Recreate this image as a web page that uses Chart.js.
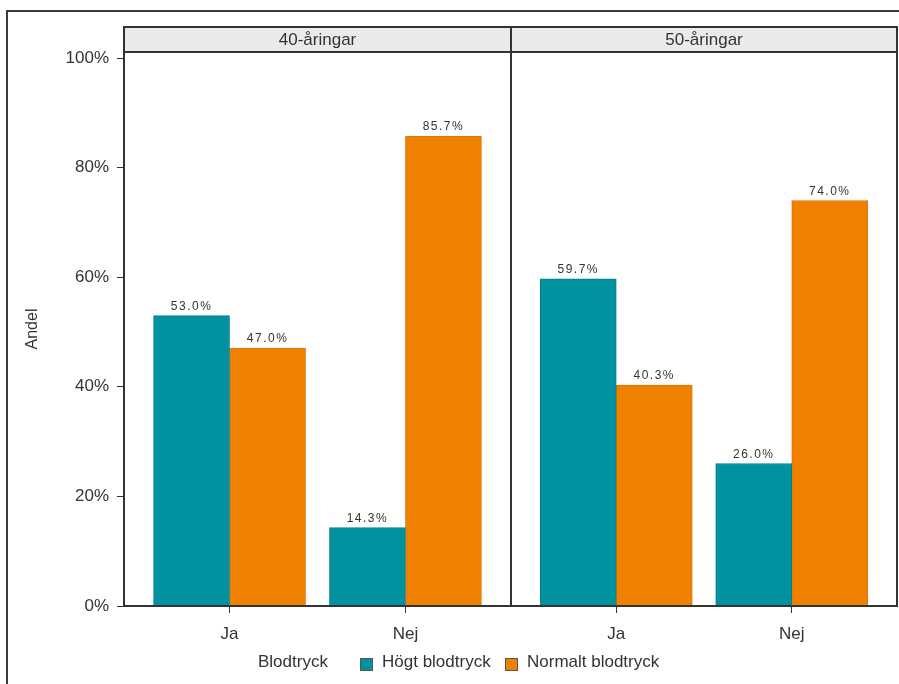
<!DOCTYPE html>
<html>
<head>
<meta charset="utf-8">
<script src="https://cdn.jsdelivr.net/npm/chart.js@4"></script>
<style>
  body { margin: 0; background: #fff; }
  #wrap { position: relative; width: 899px; height: 684px; overflow: hidden; font-family: "Liberation Sans", Arial, sans-serif; color: #333; }
  #frame { position: absolute; left: 6px; top: 10px; width: 900px; height: 700px; border-top: 2px solid #3a3a3a; border-left: 2px solid #3a3a3a; }
  #chA { position: absolute; left: 0; top: 0; }
  #chB { position: absolute; left: 511px; top: 0; }
  .lg { position: absolute; top: 652px; font-size: 17px; line-height: 20px; white-space: nowrap; }
  .sq { position: absolute; top: 658px; width: 11px; height: 11px; border: 1px solid #555; }
</style>
</head>
<body>
<div id="wrap">
  <div id="frame"></div>
  <canvas id="chA" width="512" height="684"></canvas>
  <canvas id="chB" width="388" height="684"></canvas>
  <div id="legend"></div>
</div>
<script>
let categories = ['Ja', 'Nej'];
let panels = ['40-åringar', '50-åringar'];
let seriesNames = ['Högt blodtryck', 'Normalt blodtryck'];
let legendTitle = 'Blodtryck';
let hogt40 = [53.0, 14.3];
let normalt40 = [47.0, 85.7];
let hogt50 = [59.7, 26.0];
let normalt50 = [40.3, 74.0];
let yTicks = [0, 20, 40, 60, 80, 100];
let colors = ['#00929e', '#f08000'];
let borders = ['#00818c', '#e07600'];

Chart.defaults.font.family = '"Liberation Sans", Arial, sans-serif';
Chart.defaults.color = '#333';

// grey strip with the panel title + the panel frame
let facetPlugin = {
    id: 'facet',
    afterDraw(chart, args, opts) {
        let ctx = chart.ctx;
        let a = chart.chartArea;
        ctx.save();
        ctx.fillStyle = '#e9eaec';
        ctx.fillRect(a.left, 27, a.right - a.left, a.top - 27);
        ctx.strokeStyle = '#333';
        ctx.lineWidth = 2;
        ctx.strokeRect(a.left, 27, a.right - a.left, a.top - 27);
        ctx.strokeRect(a.left, a.top, a.right - a.left, a.bottom - a.top);
        ctx.fillStyle = '#333';
        ctx.font = '17px "Liberation Sans", Arial, sans-serif';
        ctx.textAlign = 'center';
        ctx.textBaseline = 'middle';
        ctx.fillText(opts.title, (a.left + a.right) / 2, 40);
        ctx.restore();
    }
};

// value labels above the bars
let barLabels = {
    id: 'barLabels',
    afterDatasetsDraw(chart) {
        let ctx = chart.ctx;
        ctx.save();
        ctx.font = '12px "Liberation Sans", Arial, sans-serif';
        ctx.letterSpacing = '1.5px';
        ctx.fillStyle = '#333';
        ctx.textAlign = 'center';
        ctx.textBaseline = 'alphabetic';
        chart.data.datasets.forEach((ds, i) => {
            chart.getDatasetMeta(i).data.forEach((bar, j) => {
                ctx.fillText(ds.data[j].y.toFixed(1) + '%', bar.x, bar.y - 6);
            });
        });
        ctx.restore();
    }
};

function createPanel(id, title, hogt, normalt, showY) {
    let series = [hogt, normalt];
    let datasets = [];
    for (let i = 0; i < series.length; i++) {
        datasets.push({
            label: seriesNames[i],
            data: series[i].map((v, j) => ({ x: j, y: v })),
            backgroundColor: colors[i],
            borderColor: borders[i],
            borderWidth: 1,
            barThickness: 76
        });
    }
    new Chart(document.getElementById(id), {
        type: 'bar',
        data: { datasets: datasets },
        options: {
            responsive: false,
            animation: false,
            layout: { padding: { top: 52, right: showY ? 1 : 2, bottom: 0, left: 0 } },
            plugins: {
                legend: { display: false },
                tooltip: { enabled: false },
                facet: { title: title }
            },
            scales: {
                x: {
                    type: 'linear',
                    min: -0.6,
                    max: 1.6,
                    offset: false,
                    afterBuildTicks: s => { s.ticks = categories.map((c, j) => ({ value: j })); },
                    afterFit: s => { s.height = 78; },
                    grid: { drawOnChartArea: false, offset: false, tickLength: 7, color: '#333' },
                    border: { display: false },
                    ticks: { callback: v => categories[v], font: { size: 17 }, padding: 11, maxRotation: 0 }
                },
                y: {
                    display: showY,
                    min: 0,
                    max: 101.1,
                    afterBuildTicks: s => { s.ticks = yTicks.map(v => ({ value: v })); },
                    afterFit: s => { s.width = showY ? 124 : 0; },
                    grid: { drawOnChartArea: false, tickLength: 7, color: '#333' },
                    border: { display: false },
                    ticks: { callback: v => v + '%', font: { size: 17 }, padding: 8 },
                    title: { display: true, text: 'Andel', font: { size: 16 }, padding: { top: 23, bottom: 0 } }
                }
            }
        },
        plugins: [facetPlugin, barLabels]
    });
}

createPanel('chA', panels[0], hogt40, normalt40, true);
createPanel('chB', panels[1], hogt50, normalt50, false);

// legend below both panels
let legend = document.getElementById('legend');
legend.innerHTML =
    '<span class="lg" style="left:258px">' + legendTitle + '</span>' +
    '<span class="sq" style="left:360px;background:' + colors[0] + '"></span>' +
    '<span class="lg" style="left:382px">' + seriesNames[0] + '</span>' +
    '<span class="sq" style="left:505px;background:' + colors[1] + '"></span>' +
    '<span class="lg" style="left:527px">' + seriesNames[1] + '</span>';
</script>
</body>
</html>
